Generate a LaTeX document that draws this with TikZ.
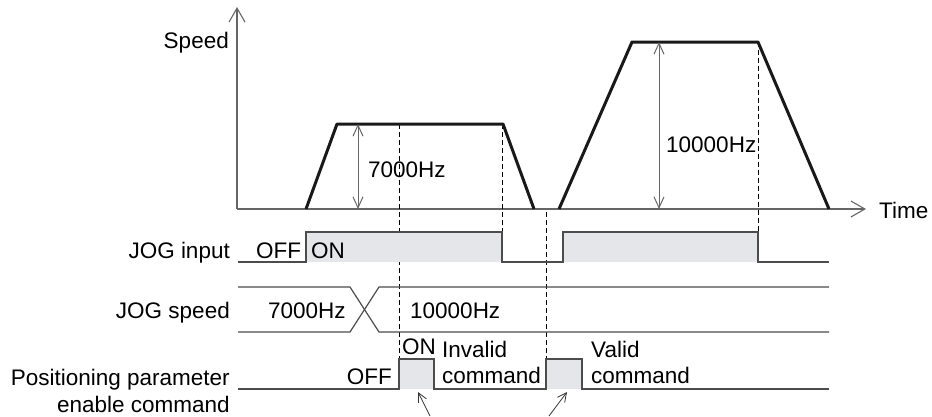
\documentclass[tikz,border=0pt]{standalone}
\usepackage{fontspec}
\setmainfont{Liberation Sans}
\usepackage{xcolor}
\usepackage{tikz}
\usetikzlibrary{positioning, arrows.meta}
\definecolor{pulsegray}{HTML}{E4E6EA}

\begin{document}
\begin{tikzpicture}[
    x=1pt, y=-1pt,
    font=\fontsize{22.5}{26}\selectfont,
    axis/.style={draw=black!60, line width=1.3pt, -{Straight Barb[length=14pt, width=16pt, line width=1.1pt]}},
    profile/.style={draw=black!90, line width=3pt, line join=round},
    dimline/.style={draw=black!60, line width=1pt, {Straight Barb[length=11pt, width=10pt]}-{Straight Barb[length=11pt, width=10pt]}},
    guide/.style={draw=black, line width=0.8pt, dash pattern=on 5pt off 3pt},
    signal/.style={draw=black!70, line width=1.2pt},
    highfill/.style={fill=pulsegray, draw=none},
    rowlabel/.style={anchor=base east, inner sep=0pt},
    state/.style={anchor=base west, inner sep=0pt},
    pointer/.style={draw=black!80, line width=0.8pt, -{Straight Barb[length=9pt, width=9pt]}}
]
\useasboundingbox (0,0) rectangle (932,416);

% speed axes
\coordinate (O) at (237,209);
\coordinate (ytip) at (237,7);
\coordinate (xtip) at (866,209);
\draw[axis] (O) -- (ytip);
\draw[axis] (O) -- (xtip);
\node[rowlabel] (speedlbl) at (229,48) {Speed};
\node[state] (timelbl) at (879,218) {Time};

% guide lines
\draw[guide] (399,124) -- (399,389);
\draw[guide] (502,124) -- (502,232);
\draw[guide] (546,212) -- (546,359);
\draw[guide] (758,42) -- (758,232);

% speed profiles
\coordinate (p1) at (306,209);
\coordinate (p2) at (337,124);
\coordinate (p3) at (503,124);
\coordinate (p4) at (534,209);
\draw[profile] (p1) -- (p2) -- (p3) -- (p4);
\coordinate (q1) at (559,209);
\coordinate (q2) at (632,42);
\coordinate (q3) at (758,42);
\coordinate (q4) at (829,209);
\draw[profile] (q1) -- (q2) -- (q3) -- (q4);

\draw[dimline] (358,124) -- (358,209);
\node[state] (lowhz) at (368,177) {7000Hz};
\draw[dimline] (659,42) -- (659,209);
\node[state] (highhz) at (666,152) {10000Hz};

% JOG input
\fill[highfill] (306,232) rectangle (502,262);
\fill[highfill] (563,232) rectangle (758,262);
\draw[signal] (238,262) -- (306,262) -- (306,232) -- (502,232) -- (502,262)
    -- (563,262) -- (563,232) -- (758,232) -- (758,262) -- (829,262);
\node[rowlabel] (joginlbl) at (230,258) {JOG input};
\node[state] (jogoff) at (256,258) {OFF};
\node[state] (jogon) at (311,258) {ON};

% JOG speed
\draw[signal] (238,287) -- (350,287) -- (379,332) -- (829,332);
\draw[signal] (238,332) -- (350,332) -- (379,287) -- (829,287);
\node[rowlabel] (jogsplbl) at (230,318) {JOG speed};
\node[state] (oldspd) at (268,318) {7000Hz};
\node[state] (newspd) at (410,318) {10000Hz};

% positioning parameter enable command
\fill[highfill] (399,359) rectangle (434,389);
\fill[highfill] (546,359) rectangle (582,389);
\draw[signal] (238,389) -- (399,389) -- (399,359) -- (434,359) -- (434,389)
    -- (546,389) -- (546,359) -- (582,359) -- (582,389) -- (829,389);
\node[rowlabel] (poslbl) at (230,385) {Positioning parameter};
\node[rowlabel] (poslbl2) at (230,412) {enable command};
\node[anchor=base east, inner sep=0pt] (posoff) at (392,384) {OFF};
\node[state] (poson) at (402,354) {ON};
\node[state] (invalid) at (442,357) {Invalid};
\node[state] (invalid2) at (442,383) {command};
\node[state] (valid) at (591,357) {Valid};
\node[state] (valid2) at (591,383) {command};

% pointers to the pulses
\coordinate (ptail1) at (430,416);
\coordinate (phead1) at (418,392);
\coordinate (ptail2) at (549,416);
\coordinate (phead2) at (567,392);
\draw[pointer] (ptail1) -- (phead1);
\draw[pointer] (ptail2) -- (phead2);
\end{tikzpicture}
\end{document}
